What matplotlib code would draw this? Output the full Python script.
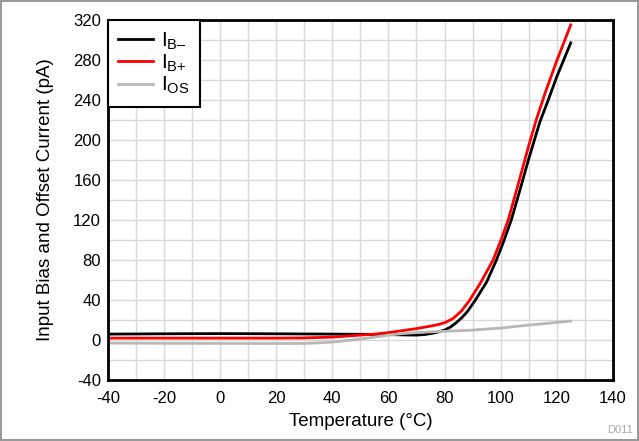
import numpy as np
import matplotlib
matplotlib.use("Agg")
import matplotlib.pyplot as plt

plt.rcParams['font.family'] = ['Liberation Sans', 'DejaVu Sans']
plt.rcParams['mathtext.fontset'] = 'custom'
plt.rcParams['mathtext.rm'] = 'Liberation Sans'
plt.rcParams['axes.unicode_minus'] = False

# Temperatura (°C) y corrientes (pA)
temp_ibm = [-40, -20, 0, 20, 40, 50, 60, 65, 70, 73, 76, 78, 80, 82, 84, 86, 88, 91, 95, 98.5, 101, 103.8, 107, 110, 114, 117, 120, 125]
ib_minus = [6, 6.3, 6.5, 6.3, 6, 5.8, 5.5, 5.2, 5, 5.6, 7, 8.3, 10, 12.8, 17, 22, 28, 40, 58, 80, 98, 120, 151, 181, 218, 240, 263, 297]

temp_ibp = [-40, -20, 0, 20, 30, 40, 45, 50, 55, 60, 65, 70, 75, 78, 80, 83, 86, 89, 93, 97.3, 100, 102.7, 106, 110, 112.8, 116, 120, 125]
ib_plus = [2, 2, 2, 2, 2.2, 3, 4, 5, 6, 7.5, 9.5, 11.5, 14, 15.7, 17.3, 21.5, 29, 40, 58, 80, 99, 120, 153, 194, 221, 248, 279, 315]

temp_ios = [-40, -20, 0, 20, 30, 35, 40, 45, 50, 55, 60, 65, 70, 75, 80, 90, 100, 110, 125]
i_os = [-3, -3.2, -3.3, -3.4, -3.3, -2.8, -2, -0.5, 1, 3, 5, 6.5, 7.5, 8.2, 8.8, 10, 12, 15, 19]

fig = plt.figure(figsize=(6.39, 4.41), dpi=100, linewidth=1.5, edgecolor='#999999')
ax = fig.add_axes([0.169, 0.138, 0.79, 0.817])

ax.plot(temp_ibm, ib_minus, color='black', lw=2, label='$\\mathregular{I_{B–}}$')
ax.plot(temp_ibp, ib_plus, color='#ff0000', lw=2, label='$\\mathregular{I_{B{+}}}$')
ax.plot(temp_ios, i_os, color='#b8b8b8', lw=2, label='$\\mathregular{I_{OS}}$')

ax.set_xlim(-40, 140)
ax.set_ylim(-40, 320)
ax.set_xticks(np.arange(-40, 141, 20))
ax.set_yticks(np.arange(-40, 321, 40))
ax.set_xticks(np.arange(-40, 141, 10), minor=True)
ax.set_yticks(np.arange(-40, 321, 20), minor=True)
ax.grid(which='both', color='#d9d9d9', lw=1)
ax.set_axisbelow(True)
ax.tick_params(which='both', length=0, labelsize=12)
ax.tick_params(axis='x', pad=8)
ax.tick_params(axis='y', pad=5)
for s in ax.spines.values():
    s.set_linewidth(2)

ax.set_xlabel('Temperature (°C)', fontsize=13.5)
ax.set_ylabel('Input Bias and Offset Current (pA)', fontsize=13.5)
ax.xaxis.set_label_coords(0.5, -0.092)
ax.yaxis.set_label_coords(-0.107, 0.5)

leg = ax.legend(loc='upper left', fontsize=15, frameon=True, fancybox=False,
                borderaxespad=0, handlelength=1.65, handletextpad=0.38,
                labelspacing=0.05, borderpad=0.5)
leg.get_frame().set_edgecolor('black')
leg.get_frame().set_linewidth(1.5)
leg.get_frame().set_alpha(1)

fig.text(0.99, 0.018, 'D011', fontsize=8, color='#aaaaaa', ha='right', va='baseline')

fig.savefig('out.png', dpi=100)
